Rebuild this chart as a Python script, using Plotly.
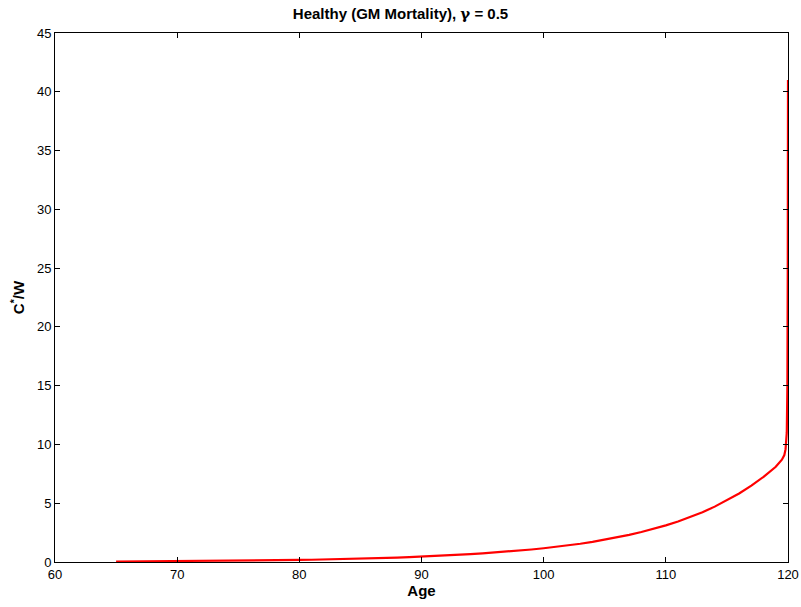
import plotly.graph_objects as go

ages = [65, 66, 67, 68, 69, 70, 71, 72, 73, 74, 75, 76, 77, 78, 79, 80, 81, 82, 83, 84,
        85, 86, 87, 88, 89, 90, 91, 92, 93, 94, 95, 96, 97, 98, 99, 100, 101, 102, 103,
        104, 105, 106, 107, 108, 109, 110, 111, 112, 113, 114, 115, 116, 117, 118, 119,
        119.5, 119.7, 119.8, 119.9, 119.95, 119.98, 120]
cw = [0.04, 0.045, 0.05, 0.055, 0.06, 0.065, 0.072, 0.08, 0.088, 0.097, 0.107, 0.118,
      0.13, 0.143, 0.158, 0.175, 0.193, 0.212, 0.233, 0.256, 0.281, 0.309, 0.34, 0.374,
      0.411, 0.452, 0.497, 0.547, 0.602, 0.662, 0.728, 0.8, 0.88, 0.968, 1.065, 1.17,
      1.285, 1.41, 1.55, 1.71, 1.89, 2.09, 2.31, 2.55, 2.82, 3.12, 3.45, 3.82, 4.24,
      4.71, 5.24, 5.83, 6.5, 7.25, 8.1, 8.7, 9.1, 9.6, 11.0, 15.0, 25.0, 41.0]

x_ticks = [60, 70, 80, 90, 100, 110, 120]
y_ticks = [0, 5, 10, 15, 20, 25, 30, 35, 40, 45]

fig = go.Figure()
fig.add_trace(go.Scatter(x=ages, y=cw, mode="lines",
                         line=dict(color="#ff0000", width=2.2), showlegend=False))

font = "Liberation Sans, Arial, Helvetica, sans-serif"
axis_common = dict(showgrid=False, zeroline=False, showline=True, linecolor="black",
                   linewidth=1, mirror="ticks", ticks="inside", ticklen=5,
                   tickcolor="black", automargin=False,
                   tickfont=dict(family=font, size=13, color="black"))

fig.update_layout(
    width=801, height=607,
    margin=dict(l=55, r=13, t=33, b=45),
    paper_bgcolor="white", plot_bgcolor="white",
    title=dict(text="<b>Healthy (GM Mortality), <span style=\"font-family:'DejaVu Serif'\">γ</span> = 0.5</b>",
               x=0.5, xanchor="center", y=1 - 14 / 607, yanchor="middle",
               font=dict(family=font, size=15, color="black")),
    xaxis=dict(range=[60, 120], tickvals=x_ticks,
               title=dict(text="<b>Age</b>", standoff=2,
                          font=dict(family=font, size=15, color="black")),
               **axis_common),
    yaxis=dict(range=[0, 45], tickvals=y_ticks,
               title=dict(text="<b>C<sup>*</sup>/W</b>", standoff=8,
                          font=dict(family=font, size=15, color="black")),
               **axis_common),
)

fig.write_html("out.html")
